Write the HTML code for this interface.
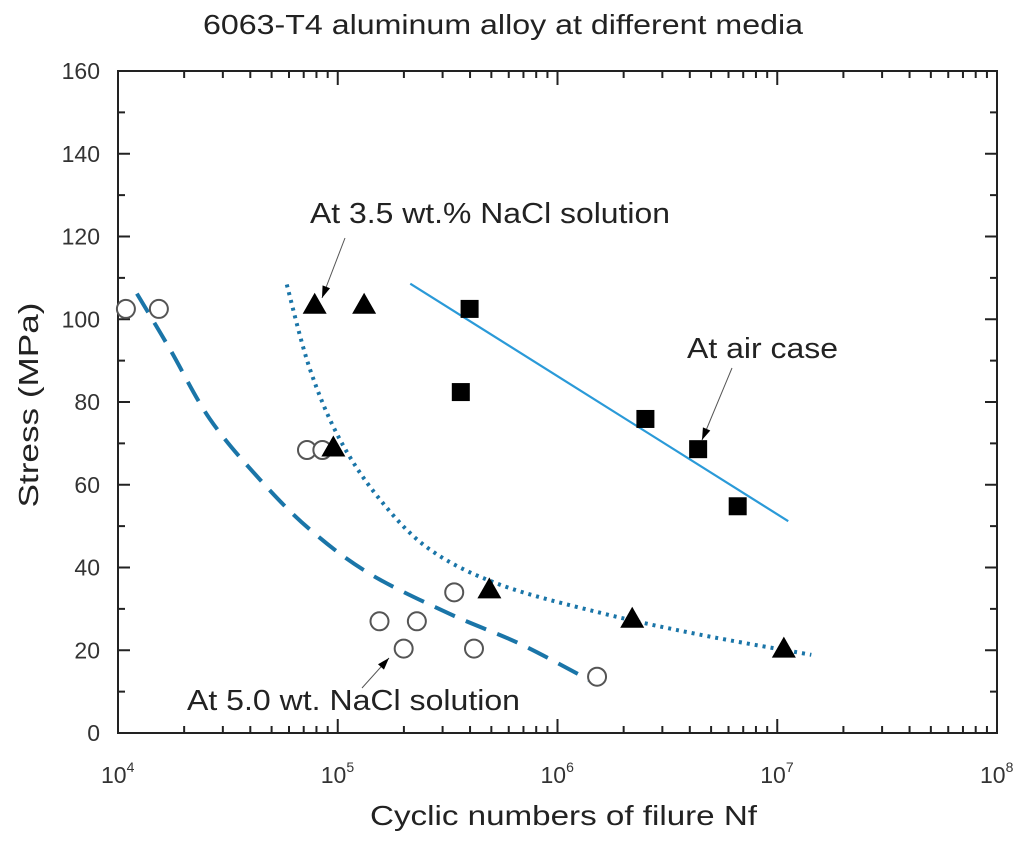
<!DOCTYPE html>
<html><head><meta charset="utf-8"><style>
html,body{margin:0;padding:0;background:#fff;}
svg{display:block;font-family:"Liberation Sans",Arial,sans-serif;}
</style></head><body>
<svg id="chart" width="1024" height="843" viewBox="0 0 1024 843">
<text x="203" y="34" font-size="28" textLength="600" lengthAdjust="spacingAndGlyphs" fill="#222">6063-T4 aluminum alloy at different media</text>
<text transform="translate(38,405) rotate(-90)" font-size="28" text-anchor="middle" textLength="205" lengthAdjust="spacingAndGlyphs" fill="#222">Stress (MPa)</text>
<text x="370" y="825" font-size="28" textLength="387" lengthAdjust="spacingAndGlyphs" fill="#222">Cyclic numbers of filure Nf</text>
<g id="axes"></g>
<g id="fits"></g>
<g id="marks"></g>
<g id="notes">
<text x="310" y="223" font-size="29" textLength="360" lengthAdjust="spacingAndGlyphs" fill="#222">At 3.5 wt.% NaCl solution</text>
<text x="687" y="358" font-size="29" textLength="151" lengthAdjust="spacingAndGlyphs" fill="#222">At air case</text>
<text x="187" y="710" font-size="29" textLength="333" lengthAdjust="spacingAndGlyphs" fill="#222">At 5.0 wt. NaCl solution</text>
</g>
</svg>
<script>
// data: x as log10(cycles), y as stress (MPa)
const yTicks=[0,20,40,60,80,100,120,140,160];
const xDecades=[4,5,6,7,8];
const circleX=[4.036,4.186,4.86,4.93,5.19,5.36,5.30,5.53,5.62,6.18];
const circleY=[102.5,102.5,68.4,68.4,27,27,20.4,34,20.4,13.6];
const triX=[4.895,5.12,4.98,5.69,6.34,7.03];
const triY=[103.5,103.5,69,34.7,27.6,20.4];
const sqX=[5.6,5.56,6.4,6.64,6.82];
const sqY=[102.5,82.4,75.9,68.6,54.8];
const airX=[5.33,7.05];
const airY=[108.6,51.2];
const dotX=[4.768,4.873,5.009,5.191,5.418,5.736,6.191,6.645,7.155];
const dotY=[108.4,88.0,71.0,56.5,44.4,35.9,29.1,23.8,18.9];
const dashX=[4.086,4.236,4.418,4.645,4.873,5.145,5.509,5.827,6.145];
const dashY=[106.2,92.8,75.9,61.3,49.2,38.5,28.8,21.6,12.8];

const L=118,R=997,T=71,B=733;
const sx=v=>L+(v-4)/4*(R-L);
const sy=v=>B-v/160*(B-T);
const NS='http://www.w3.org/2000/svg';
function mk(tag,attrs,parent){const e=document.createElementNS(NS,tag);for(const k in attrs)e.setAttribute(k,attrs[k]);parent.appendChild(e);return e;}
const axes=document.getElementById('axes');
const frame=mk('rect',{x:L,y:T,width:R-L,height:B-T,fill:'none',stroke:'#222','stroke-width':2},axes);


yTicks.forEach((v,i)=>{
  const y=sy(v);
  mk('line',{x1:L,y1:y,x2:L+12,y2:y,stroke:'#222','stroke-width':2},axes);
  mk('line',{x1:R,y1:y,x2:R-12,y2:y,stroke:'#222','stroke-width':2},axes);
  if(i<yTicks.length-1){const m=sy(v+10);
    mk('line',{x1:L,y1:m,x2:L+7,y2:m,stroke:'#222','stroke-width':2},axes);
    mk('line',{x1:R,y1:m,x2:R-7,y2:m,stroke:'#222','stroke-width':2},axes);}
  const t=mk('text',{x:L-18,y:y+8,'font-size':23,'text-anchor':'end',fill:'#333'},axes);
  t.textContent=v;
  
  
});
xDecades.forEach((d,i)=>{
  const x=sx(d);
  mk('line',{x1:x,y1:B,x2:x,y2:B-14,stroke:'#222','stroke-width':2},axes);
  mk('line',{x1:x,y1:T,x2:x,y2:T+14,stroke:'#222','stroke-width':2},axes);
  if(i<xDecades.length-1){for(let k=2;k<10;k++){const mx=sx(d+Math.log10(k));
    mk('line',{x1:mx,y1:B,x2:mx,y2:B-7,stroke:'#222','stroke-width':2},axes);
    mk('line',{x1:mx,y1:T,x2:mx,y2:T+7,stroke:'#222','stroke-width':2},axes);}}
  const t=mk('text',{x:x-17,y:B+50,'font-size':23,fill:'#333'},axes);
  t.textContent='10';
  const s=mk('tspan',{dy:-11,'font-size':14},t);s.textContent=d;
  
  
});
function smooth(xs,ys){const p=xs.map((v,i)=>[sx(v),sy(ys[i])]);let d='M'+p[0][0]+','+p[0][1];
  for(let i=0;i<p.length-1;i++){const p0=p[Math.max(0,i-1)],p1=p[i],p2=p[i+1],p3=p[Math.min(p.length-1,i+2)];
    d+=' C'+(p1[0]+(p2[0]-p0[0])/6)+','+(p1[1]+(p2[1]-p0[1])/6)+' '+(p2[0]-(p3[0]-p1[0])/6)+','+(p2[1]-(p3[1]-p1[1])/6)+' '+p2[0]+','+p2[1];}
  return d;}
const fits=document.getElementById('fits');
const air=mk('line',{x1:sx(airX[0]),y1:sy(airY[0]),x2:sx(airX[1]),y2:sy(airY[1]),stroke:'#2a9ad8','stroke-width':2.2},fits);


const dot=mk('path',{d:smooth(dotX,dotY),fill:'none',stroke:'#1a75a8','stroke-width':4,'stroke-dasharray':'3 5'},fits);


const dash=mk('path',{d:smooth(dashX,dashY),fill:'none',stroke:'#1a75a8','stroke-width':4,'stroke-dasharray':'22 12'},fits);


const marks=document.getElementById('marks');
circleX.forEach((v,i)=>{const c=mk('circle',{cx:sx(v),cy:sy(circleY[i]),r:9,fill:'#fff',stroke:'#555','stroke-width':2},marks);
  
  });
triX.forEach((v,i)=>{const x=sx(v),y=sy(triY[i]);const p=mk('polygon',{points:(x-12)+','+(y+9)+' '+(x+12)+','+(y+9)+' '+x+','+(y-12),fill:'#000'},marks);
  
  });
sqX.forEach((v,i)=>{const r=mk('rect',{x:sx(v)-9,y:sy(sqY[i])-9,width:18,height:18,fill:'#000'},marks);
  
  });
const notes=document.getElementById('notes');
function arrow(x1,y1,x2,y2,name){const g=mk('g',{},notes);
  
  
  mk('line',{x1:x1,y1:y1,x2:x2,y2:y2,stroke:'#555','stroke-width':1},g);
  const a=Math.atan2(y2-y1,x2-x1),l=12,w=4;
  const bx=x2-l*Math.cos(a),by=y2-l*Math.sin(a);
  mk('polygon',{points:x2+','+y2+' '+(bx-w*Math.sin(a))+','+(by+w*Math.cos(a))+' '+(bx+w*Math.sin(a))+','+(by-w*Math.cos(a)),fill:'#000'},g);}
arrow(345,238,322,298,'arrow-3-5-nacl');
arrow(732,368,702,440,'arrow-air');
arrow(362,688,389,658,'arrow-5-0-nacl');
</script>
</body></html>
